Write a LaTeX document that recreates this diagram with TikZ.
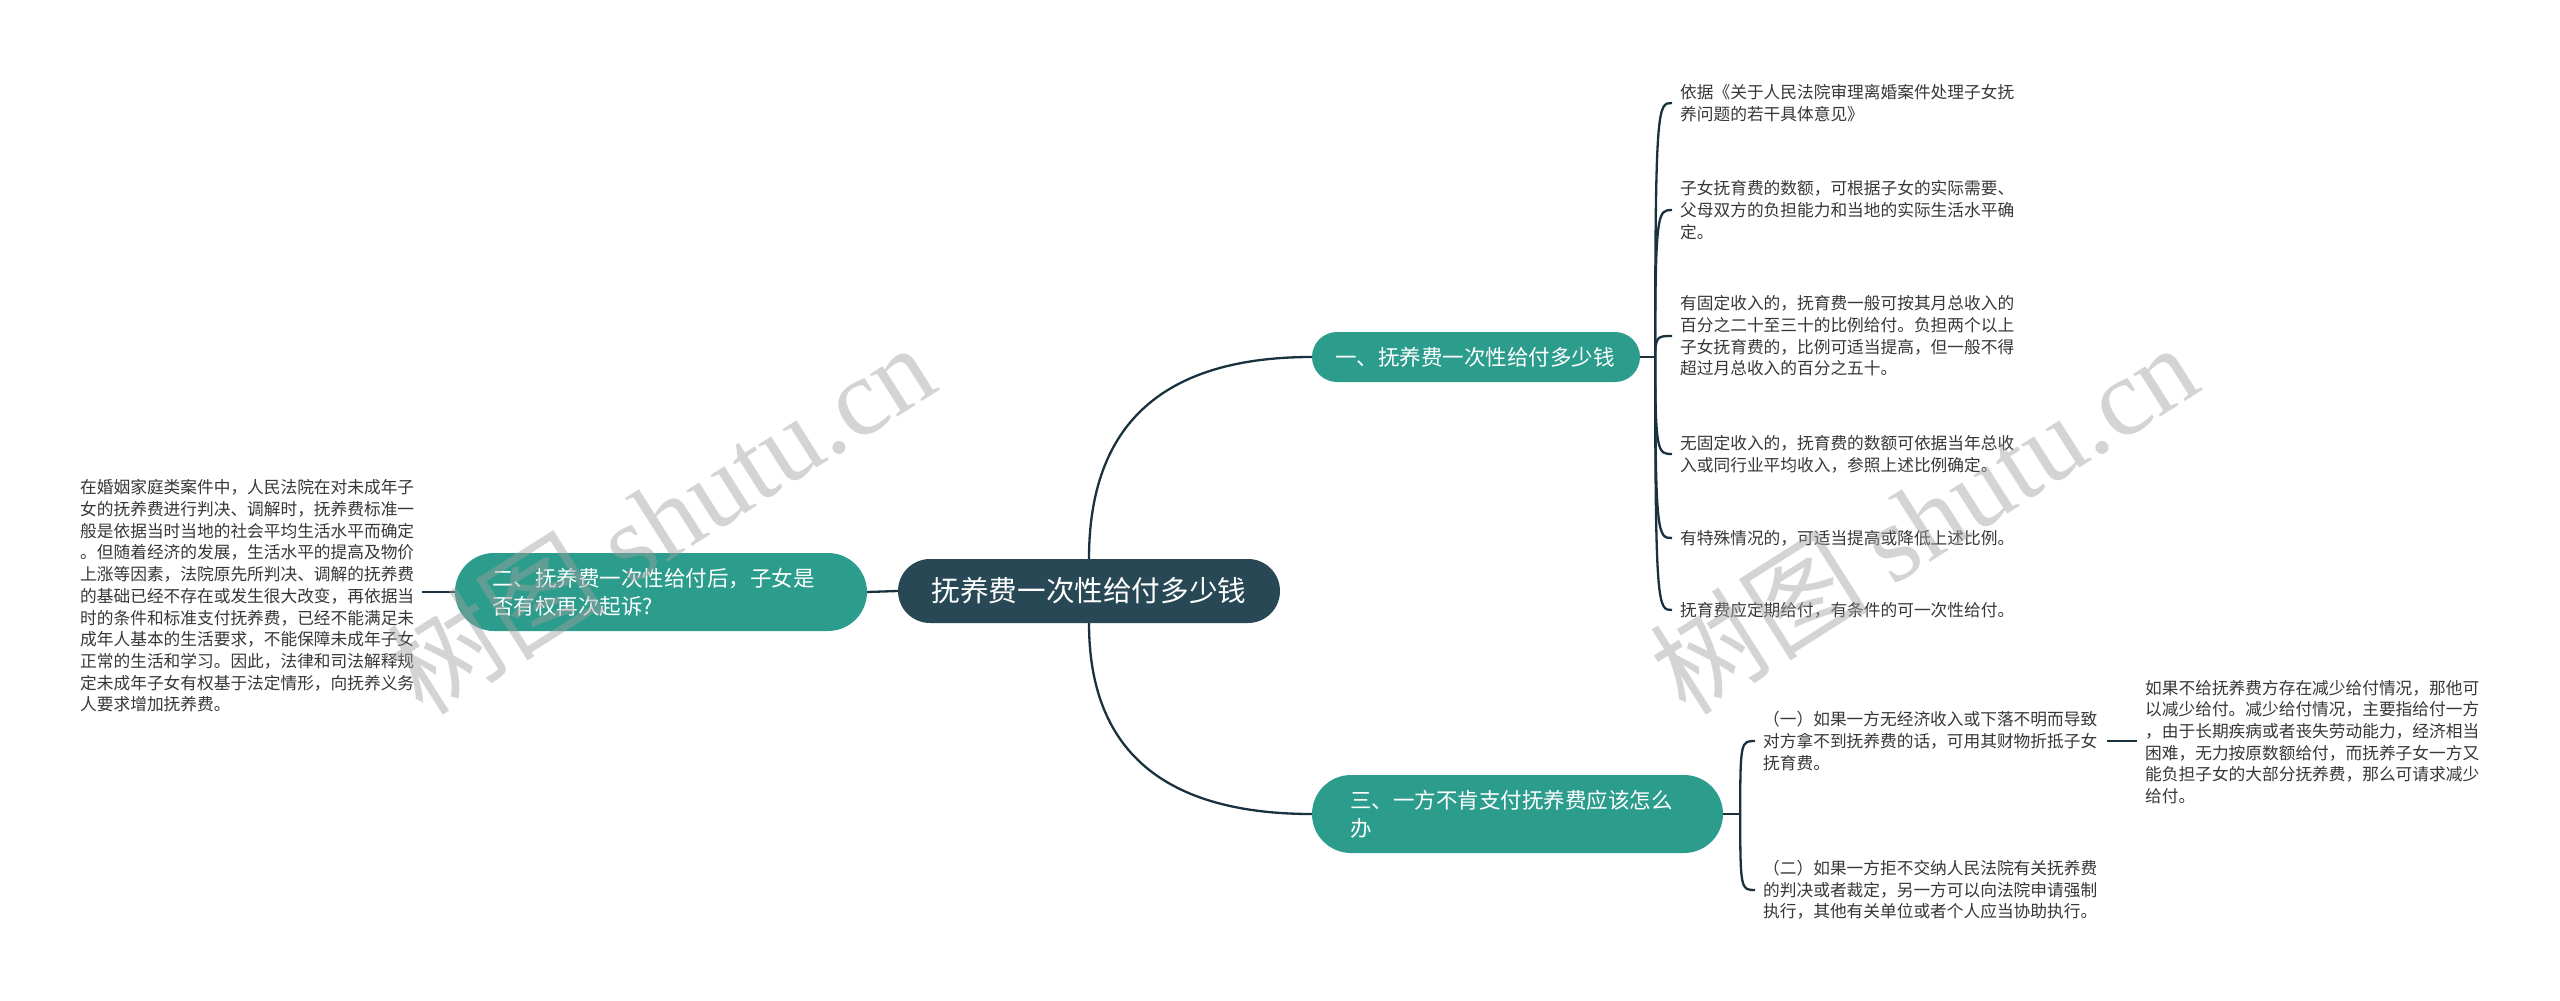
\documentclass[tikz,border=0pt]{standalone}
\usepackage{fontspec}
\setmainfont{Noto Sans CJK SC}
\newfontfamily\wmlatin{Liberation Serif}
\definecolor{hub}{RGB}{40,72,86}
\definecolor{tealb}{RGB}{44,157,140}
\definecolor{linec}{RGB}{25,50,62}
\definecolor{leaftxt}{RGB}{55,55,55}
\definecolor{wmc}{RGB}{160,160,160}
\begin{document}
\begin{tikzpicture}[x=1pt,y=-1pt,
  hubnode/.style={fill=hub, text=white, rounded corners=32pt, minimum width=382pt, minimum height=64pt, inner sep=0pt, font=\fontsize{28.6}{34}\selectfont},
  branch/.style={fill=tealb, text=white, inner sep=0pt, align=left, font=\fontsize{21.5}{28}\selectfont},
  leaf/.style={text=leaftxt, inner sep=0pt, anchor=west, align=left, font=\fontsize{16.7}{21.7}\selectfont},
  conn/.style={draw=linec, line width=2.3pt},
  wmark/.style={text=wmc, text opacity=0.45, font=\fontsize{110}{120}\selectfont, inner sep=0pt}
  ]
\fill[white] (0,0) rectangle (2560,1001);
\useasboundingbox (0,0) rectangle (2560,1001);

% main nodes
\node[hubnode] (c) at (1089,591) {抚养费一次性给付多少钱};
\node[branch, minimum width=328pt, minimum height=50pt, rounded corners=25pt, text width=282pt] (n1) at (1476,357) {一、抚养费一次性给付多少钱};
\node[branch, minimum width=412pt, minimum height=78pt, rounded corners=39pt, text width=338pt] (n2) at (661,592) {二、抚养费一次性给付后，子女是\\否有权再次起诉?};
\node[branch, minimum width=411pt, minimum height=78pt, rounded corners=39pt, text width=335pt] (n3) at (1517.5,814) {三、一方不肯支付抚养费应该怎么\\办};

% leaves of n1
\node[leaf] (a1) at (1680,103) {依据《关于人民法院审理离婚案件处理子女抚\\养问题的若干具体意见》};
\node[leaf] (a2) at (1680,210) {子女抚育费的数额，可根据子女的实际需要、\\父母双方的负担能力和当地的实际生活水平确\\定。};
\node[leaf] (a3) at (1680,336) {有固定收入的，抚育费一般可按其月总收入的\\百分之二十至三十的比例给付。负担两个以上\\子女抚育费的，比例可适当提高，但一般不得\\超过月总收入的百分之五十。};
\node[leaf] (a4) at (1680,454) {无固定收入的，抚育费的数额可依据当年总收\\入或同行业平均收入，参照上述比例确定。};
\node[leaf] (a5) at (1680,538) {有特殊情况的，可适当提高或降低上述比例。};
\node[leaf] (a6) at (1680,610) {抚育费应定期给付，有条件的可一次性给付。};

% leaves of n3
\node[leaf] (b1) at (1763,741) {（一）如果一方无经济收入或下落不明而导致\\对方拿不到抚养费的话，可用其财物折抵子女\\抚育费。};
\node[leaf] (b2) at (1763,890) {（二）如果一方拒不交纳人民法院有关抚养费\\的判决或者裁定，另一方可以向法院申请强制\\执行，其他有关单位或者个人应当协助执行。};
\node[leaf] (g1) at (2145,742) {如果不给抚养费方存在减少给付情况，那他可\\以减少给付。减少给付情况，主要指给付一方\\，由于长期疾病或者丧失劳动能力，经济相当\\困难，无力按原数额给付，而抚养子女一方又\\能负担子女的大部分抚养费，那么可请求减少\\给付。};

% leaf of n2
\node[leaf] (l1) at (80,596) {在婚姻家庭类案件中，人民法院在对未成年子\\女的抚养费进行判决、调解时，抚养费标准一\\般是依据当时当地的社会平均生活水平而确定\\。但随着经济的发展，生活水平的提高及物价\\上涨等因素，法院原先所判决、调解的抚养费\\的基础已经不存在或发生很大改变，再依据当\\时的条件和标准支付抚养费，已经不能满足未\\成年人基本的生活要求，不能保障未成年子女\\正常的生活和学习。因此，法律和司法解释规\\定未成年子女有权基于法定情形，向抚养义务\\人要求增加抚养费。};

% connectors: center to branches
\draw[conn] (c.north) .. controls (1089,424) and (1163,357) .. (n1.west);
\draw[conn] (c.south) .. controls (1089,750) and (1163,814) .. (n3.west);
\draw[conn] (n2.east) -- (c.west);
\coordinate (l1e) at ([xshift=8pt]l1.east);
\draw[conn] (n2.west) -- (l1e |- n2.west);

% bracket of n1
\coordinate (j1) at ([xshift=15pt]n1.east);
\draw[conn] (n1.east) -- (j1);
\foreach \k in {a1,a2,a3,a4,a5,a6}{
  \draw[conn] (j1) .. controls (j1 |- \k.west) and ([xshift=-22pt]\k.west) .. ([xshift=-8pt]\k.west);
}

% bracket of n3
\coordinate (j3) at ([xshift=17pt]n3.east);
\draw[conn] (n3.east) -- (j3);
\foreach \k in {b1,b2}{
  \draw[conn] (j3) .. controls (j3 |- \k.west) and ([xshift=-22pt]\k.west) .. ([xshift=-8pt]\k.west);
}

% b1 to g1
\coordinate (b1e) at ([xshift=10pt]b1.east);
\coordinate (g1w) at ([xshift=-8pt]g1.west);
\draw[conn] (b1e) -- (g1w |- b1e);

% watermarks
\node[wmark, rotate=32.4] (w1) at (660,518) {树图 {\wmlatin shutu.cn}};
\node[wmark, rotate=32.4] (w2) at (1923,518) {树图 {\wmlatin shutu.cn}};
\end{tikzpicture}
\end{document}
